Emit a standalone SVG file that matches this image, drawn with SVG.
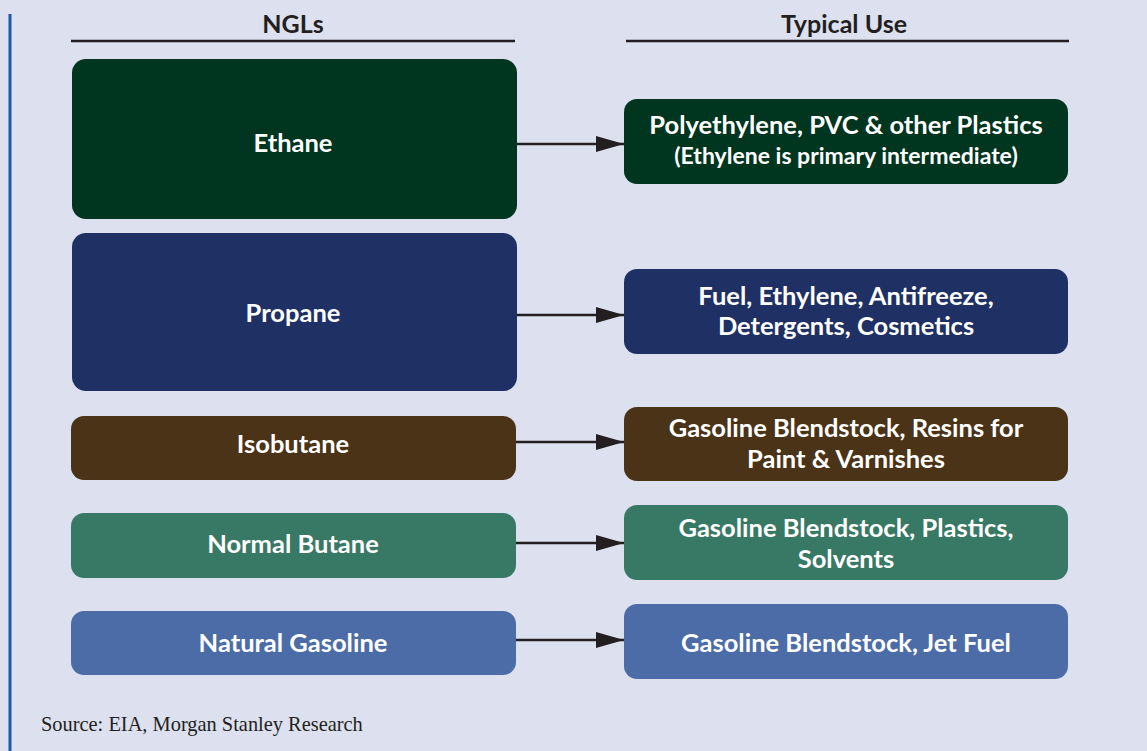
<svg xmlns="http://www.w3.org/2000/svg" width="1147" height="751" viewBox="0 0 1147 751">
<defs>
<style>
.hdr{font-family:Lato,"Open Sans","Liberation Sans",sans-serif;font-weight:700;font-size:25px;fill:#231f20;text-anchor:middle}
.t{font-family:Lato,"Open Sans","Liberation Sans",sans-serif;font-weight:700;font-size:25.5px;fill:#ffffff;text-anchor:middle}
.s{font-family:Lato,"Open Sans","Liberation Sans",sans-serif;font-weight:700;font-size:23px;fill:#ffffff;text-anchor:middle}
.src{font-family:"Liberation Serif",serif;font-size:20.4px;fill:#231f20}
.rule{stroke:#231f20;stroke-width:2.5}
.conn{stroke:#231f20;stroke-width:2.5;fill:none}
</style>
<marker id="ah" viewBox="0 0 28 16" refX="28" refY="8" markerWidth="28" markerHeight="16" markerUnits="userSpaceOnUse" orient="auto">
<path d="M0,0 L28,8 L0,16 Z" fill="#231f20"/>
</marker>
</defs>
<rect width="1147" height="751" fill="#dde0ef"/>
<line x1="10" y1="14" x2="10" y2="751" stroke="#1f5aa6" stroke-width="3"/>
<g id="headers">
<text class="hdr" x="293" y="33">NGLs</text>
<line class="rule" x1="71" y1="41" x2="515" y2="41"/>
<text class="hdr" x="844" y="33">Typical Use</text>
<line class="rule" x1="626" y1="41" x2="1069" y2="41"/>
</g>
<g id="ethane"><rect x="72" y="59" width="445" height="160" rx="14" fill="#003520"/><text class="t" x="293" y="152">Ethane</text></g>
<g id="propane"><rect x="72" y="233" width="445" height="158" rx="14" fill="#1f3064"/><text class="t" x="293" y="322">Propane</text></g>
<g id="isobutane"><rect x="71" y="416" width="445" height="64" rx="13" fill="#4a3317"/><text class="t" x="293" y="453">Isobutane</text></g>
<g id="normal-butane"><rect x="71" y="513" width="445" height="65" rx="13" fill="#387965"/><text class="t" x="293" y="553">Normal Butane</text></g>
<g id="natural-gasoline"><rect x="71" y="611" width="445" height="64" rx="13" fill="#4c6ca8"/><text class="t" x="293" y="652">Natural Gasoline</text></g>
<g id="use-ethane"><rect x="624" y="99" width="444" height="85" rx="13" fill="#003520"/><text class="t" x="846" y="134">Polyethylene, PVC &amp; other Plastics</text><text class="s" x="846" y="164">(Ethylene is primary intermediate)</text></g>
<g id="use-propane"><rect x="624" y="269" width="444" height="85" rx="13" fill="#1f3064"/><text class="t" x="846" y="305">Fuel, Ethylene, Antifreeze,</text><text class="t" x="846" y="335">Detergents, Cosmetics</text></g>
<g id="use-isobutane"><rect x="624" y="407" width="444" height="74" rx="13" fill="#4a3317"/><text class="t" x="846" y="437">Gasoline Blendstock, Resins for</text><text class="t" x="846" y="468">Paint &amp; Varnishes</text></g>
<g id="use-normal-butane"><rect x="624" y="505" width="444" height="75" rx="13" fill="#387965"/><text class="t" x="846" y="537">Gasoline Blendstock, Plastics,</text><text class="t" x="846" y="568">Solvents</text></g>
<g id="use-natural-gasoline"><rect x="624" y="604" width="444" height="75" rx="13" fill="#4c6ca8"/><text class="t" x="846" y="652">Gasoline Blendstock, Jet Fuel</text></g>
<g id="connectors">
<line class="conn" x1="517" y1="144" x2="624" y2="144" marker-end="url(#ah)"/>
<line class="conn" x1="517" y1="315" x2="624" y2="315" marker-end="url(#ah)"/>
<line class="conn" x1="516" y1="442" x2="624" y2="442" marker-end="url(#ah)"/>
<line class="conn" x1="516" y1="543" x2="624" y2="543" marker-end="url(#ah)"/>
<line class="conn" x1="516" y1="640" x2="624" y2="640" marker-end="url(#ah)"/>
</g>
<text class="src" x="41" y="731">Source: EIA, Morgan Stanley Research</text>
</svg>
